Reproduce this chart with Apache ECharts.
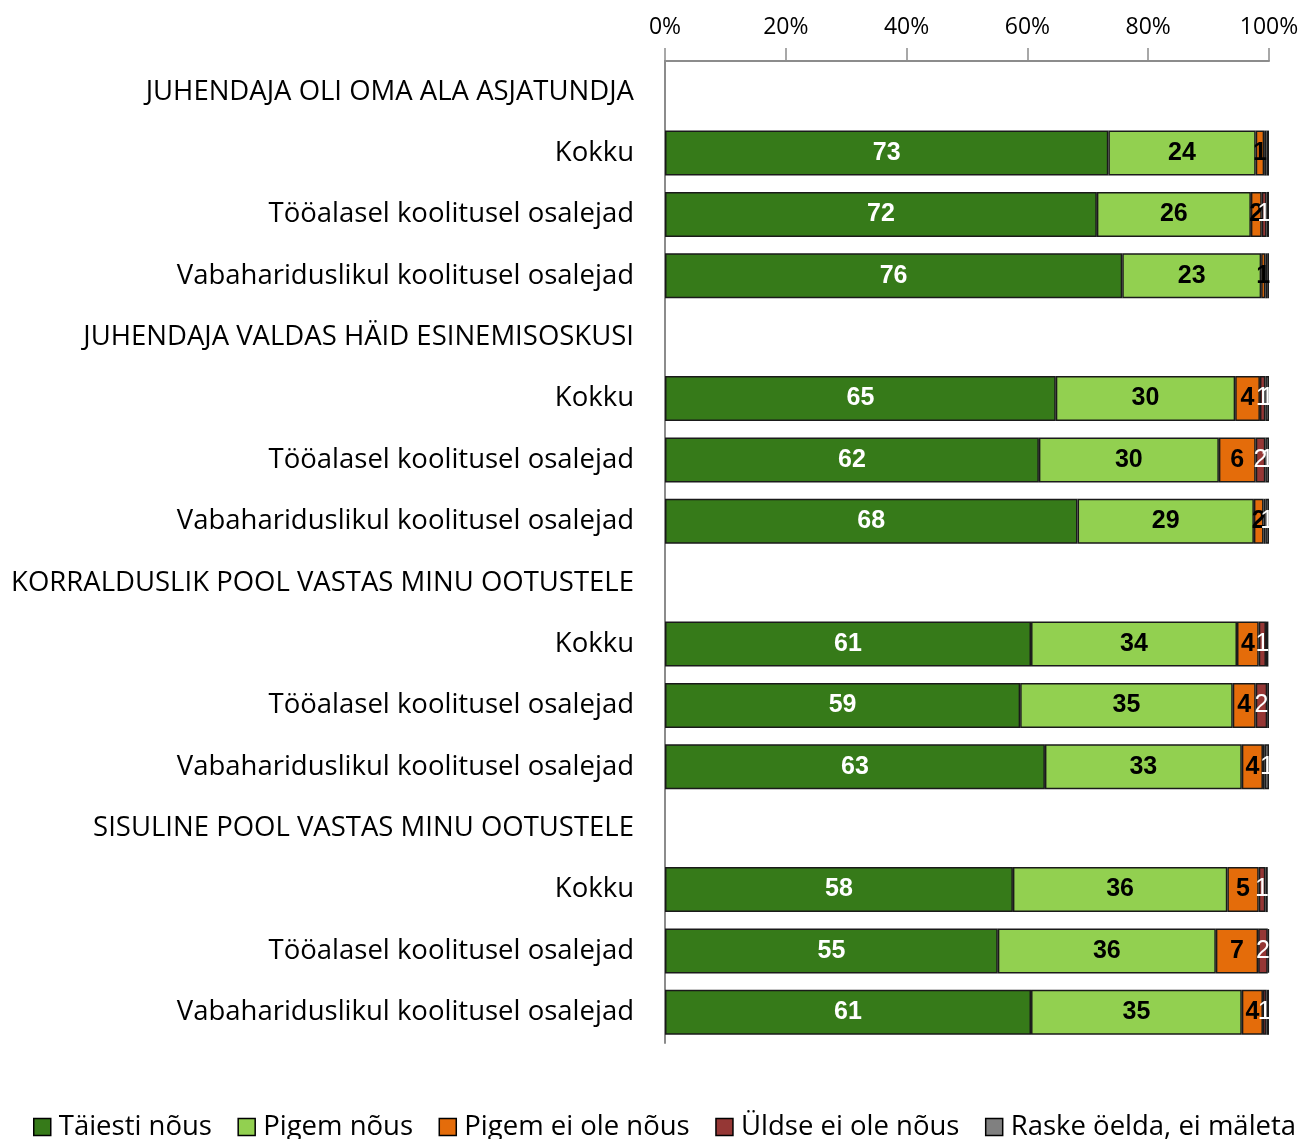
<!DOCTYPE html>
<html><head><meta charset="utf-8">
<script src="https://cdn.jsdelivr.net/npm/echarts@6/dist/echarts.min.js"></script>
<style>html,body{margin:0;padding:0;background:#fff}#c{width:1300px;height:1139px}</style>
</head><body><div id="c"></div>
<script>
const categories = [
  "JUHENDAJA OLI OMA ALA ASJATUNDJA", "Kokku", "Tööalasel koolitusel osalejad", "Vabahariduslikul koolitusel osalejad",
  "JUHENDAJA VALDAS HÄID ESINEMISOSKUSI", "Kokku ", "Tööalasel koolitusel osalejad ", "Vabahariduslikul koolitusel osalejad ",
  "KORRALDUSLIK POOL VASTAS MINU OOTUSTELE", "Kokku  ", "Tööalasel koolitusel osalejad  ", "Vabahariduslikul koolitusel osalejad  ",
  "SISULINE POOL VASTAS MINU OOTUSTELE", "Kokku   ", "Tööalasel koolitusel osalejad   ", "Vabahariduslikul koolitusel osalejad   "
];
const seriesNames = ["Täiesti nõus", "Pigem nõus", "Pigem ei ole nõus", "Üldse ei ole nõus", "Raske öelda, ei mäleta"];
const taiesti = ["-", 73.4, 71.5, 75.7, "-", 64.7, 61.9, 68.3, "-", 60.6, 58.8, 62.9, "-", 57.6, 55.1, 60.6];
const pigemNous = ["-", 24.4, 25.5, 23.0, "-", 29.7, 29.8, 29.2, "-", 34.1, 35.2, 32.6, "-", 35.5, 36.1, 34.9];
const pigemEi = ["-", 1.4, 1.8, 0.7, "-", 4.1, 6.1, 1.6, "-", 3.6, 3.8, 3.5, "-", 5.2, 7.0, 3.5];
const uldseEi = ["-", 0.4, 0.8, 0.3, "-", 0.9, 1.6, 0.3, "-", 1.2, 1.9, 0.3, "-", 1.1, 1.6, 0.6];
const raske = ["-", 0.4, 0.4, 0.3, "-", 0.6, 0.6, 0.6, "-", 0.4, 0.3, 0.7, "-", 0.4, 0.2, 0.4];
const xTicks = ["0%", "20%", "40%", "60%", "80%", "100%"];

const FONT = "Open Sans";
const colors = ["#367a19", "#92d050", "#e46c0a", "#953735", "#808080"];
const labelColors = ["#ffffff", "#000000", "#000000", "#ffffff", "#ffffff"];
const labelWeights = ["bold", "bold", "bold", "normal", "normal"];
const datas = [taiesti, pigemNous, pigemEi, uldseEi, raske];

const chart = echarts.init(document.getElementById('c'), null, {renderer: 'canvas'});
chart.setOption({
  animation: false,
  textStyle: {fontFamily: FONT},
  grid: {left: 665, right: 31, top: 61, bottom: 96, containLabel: false, outerBoundsMode: 'none'},
  legend: {
    bottom: -2, left: 33, padding: 0,
    itemWidth: 17, itemHeight: 17, itemGap: 25.5,
    icon: 'rect',
    textStyle: {fontSize: 27.5, color: '#000', fontFamily: FONT, padding: [0, 0, 0, 3]},
    data: seriesNames.map((n, i) => ({name: n, itemStyle: {color: colors[i], borderColor: '#000', borderWidth: 1.5}}))
  },
  xAxis: {
    type: 'value', position: 'top', min: 0, max: 100, interval: 20,
    axisLine: {show: true, lineStyle: {color: '#8c8c8c', width: 2}},
    axisTick: {show: true, length: 13, lineStyle: {color: '#8c8c8c', width: 1.5}},
    splitLine: {show: false},
    axisLabel: {fontSize: 23, color: '#000', margin: 22, fontFamily: FONT,
      formatter: v => xTicks[Math.round(v / 20)]}
  },
  yAxis: {
    type: 'category', inverse: true, data: categories,
    axisLine: {show: true, lineStyle: {color: '#8c8c8c', width: 2}},
    axisTick: {show: false},
    axisLabel: {fontSize: 27.5, color: '#000', margin: 31, fontFamily: FONT,
      formatter: v => v.trim()}
  },
  series: datas.map((d, i) => ({
    name: seriesNames[i], type: 'bar', stack: 'all', data: d,
    barWidth: 45,
    itemStyle: {color: colors[i], borderColor: '#1a1a1a', borderWidth: 1.5},
    label: {
      show: true, position: 'inside', color: labelColors[i], fontWeight: labelWeights[i],
      fontSize: 25, fontFamily: 'Liberation Sans',
      formatter: p => (typeof p.value === 'number' && p.value >= 0.5) ? String(Math.round(p.value)) : ''
    }
  }))
});
</script></body></html>
